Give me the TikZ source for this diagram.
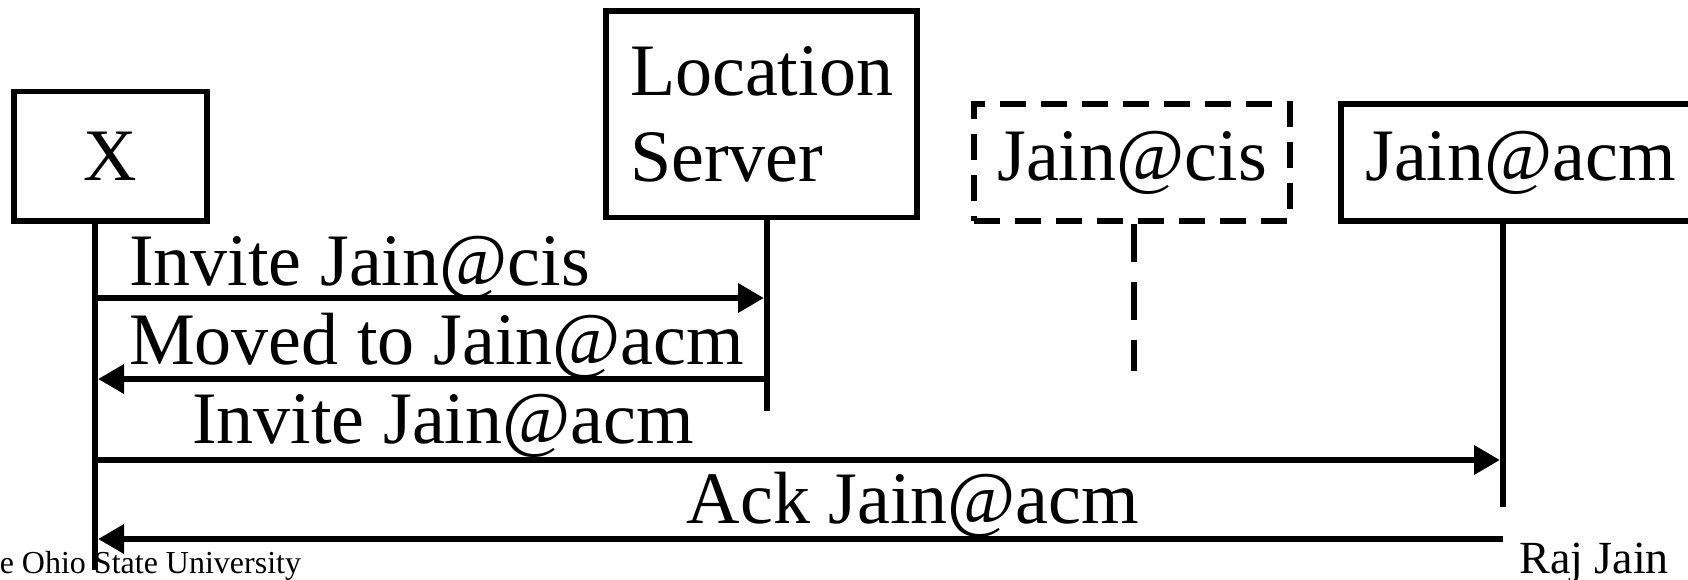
\documentclass[tikz,border=0pt]{standalone}
\usepackage{fontspec}
\setmainfont{Liberation Serif}
\usetikzlibrary{arrows.meta}
\begin{document}
\begin{tikzpicture}[x=1pt,y=-1pt,
  lane/.style={line width=6pt},
  box/.style={draw,line width=5.5pt,inner sep=0pt,font=\fontsize{74}{86}\selectfont},
  msg/.style={line width=6.5pt,shorten >=3pt,-{Triangle[length=26pt,width=28pt]}},
  lbl/.style={font=\fontsize{74}{86}\selectfont,inner sep=0pt},
  foot/.style={inner sep=0pt}]
\useasboundingbox (0,0) rectangle (1688,580);
\clip (0,0) rectangle (1688,580);
% participants
\node[box,minimum width=193pt,minimum height=129.5pt] (X) at (110.5,156.25) {X};
\node[box,minimum width=311pt,minimum height=206.5pt,align=left] (LS) at (761.5,114.25) {Location\\Server};
\node[box,dash pattern=on 26pt off 15pt,minimum width=316pt,minimum height=117pt] (cis) at (1132,162.5) {Jain@cis};
\node[box,minimum width=359pt,minimum height=117pt] (acm) at (1520.5,162.5) {Jain@acm};
% lifeline coordinates
\coordinate (xl) at (95,0);
\coordinate (lsl) at (767,0);
\coordinate (cisl) at (1133.5,0);
\coordinate (acml) at (1503,0);
\coordinate (xe) at (95,570);
\coordinate (lse) at (767,411);
\coordinate (cise) at (1133.5,371);
\coordinate (acme) at (1503,507);
\draw[lane] (X.south -| xl) -- (xe);
\draw[lane] (LS.south -| lsl) -- (lse);
\draw[lane,dash pattern=on 38pt off 20pt] (cis.south -| cisl) -- (cise);
\draw[lane] (acm.south -| acml) -- (acme);
% message points
\coordinate (x1) at (95,298);   \coordinate (ls1) at (767,298);
\coordinate (x2) at (95,379);   \coordinate (ls2) at (767,379);
\coordinate (x3) at (95,460);   \coordinate (a3) at (1503,460);
\coordinate (x4) at (95,539);   \coordinate (a4) at (1503,539);
\draw[msg] (x1) -- (ls1);
\draw[msg] (ls2) -- (x2);
\draw[msg] (x3) -- (a3);
\draw[msg] (a4) -- (x4);
% labels
\node[lbl,anchor=base west] (m1) at (129,285) {Invite Jain@cis};
\node[lbl,anchor=base west] (m2) at (129,364) {Moved to Jain@acm};
\node[lbl,anchor=base] (m3) at (443,443) {Invite Jain@acm};
\node[lbl,anchor=base] (m4) at (913,523) {Ack Jain@acm};
% footer
\node[foot,anchor=base west,font=\fontsize{32}{36}\selectfont] (osu) at (-36,573) {The Ohio State University};
\node[foot,anchor=base east,font=\fontsize{46}{50}\selectfont] (raj) at (1669,573) {Raj Jain};
\end{tikzpicture}
\end{document}
